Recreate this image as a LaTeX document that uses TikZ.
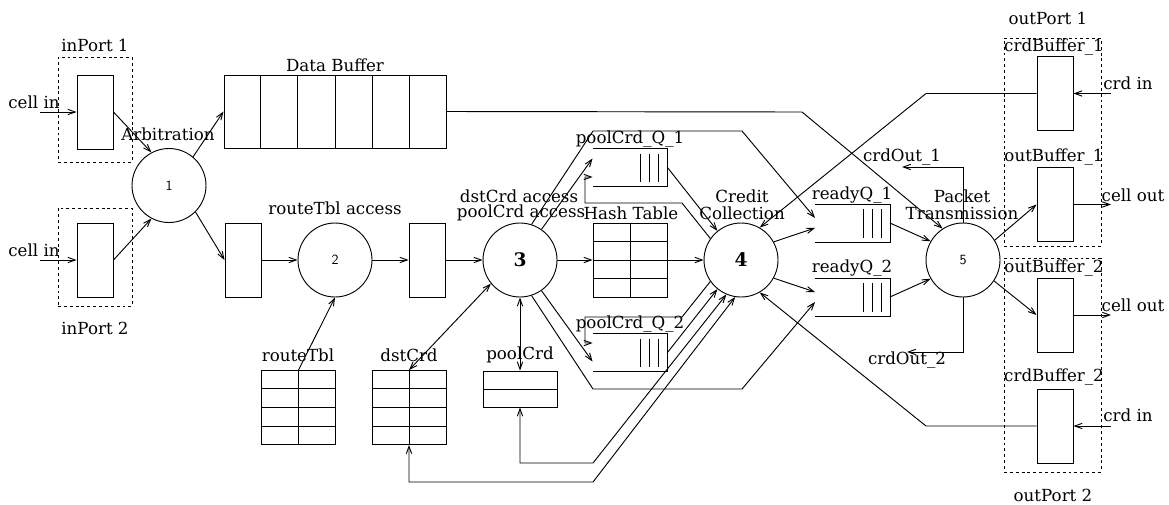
\documentclass[tikz,border=0pt]{standalone}
\usepackage{fontspec}
\setmainfont{DejaVu Serif}
\usetikzlibrary{arrows.meta,calc}

\begin{document}
\begin{tikzpicture}[x=0.75pt, y=-0.75pt, line width=0.7pt,
    lbl/.style={inner sep=0pt, font=\fontsize{12.5pt}{13pt}\selectfont},
    box/.style={draw, minimum width=27pt, minimum height=55.5pt, inner sep=0pt},
    port/.style={draw, dash pattern=on 2.2pt off 2.2pt, inner sep=0pt},
    proc/.style={draw, circle, minimum size=55.5pt, inner sep=0pt},
    num/.style={font=\fontsize{10.5pt}{10.5pt}\sffamily},
    bnum/.style={font=\fontsize{14pt}{14pt}\selectfont\bfseries},
    tbl/.style={draw, minimum width=55.5pt, minimum height=55.5pt, inner sep=0pt},
    qbox/.style={minimum width=55.5pt, minimum height=27.75pt, inner sep=0pt},
    arrow/.style={-{Straight Barb[length=5.5pt,width=4pt]}},
    darrow/.style={{Straight Barb[length=5.5pt,width=4pt]}-{Straight Barb[length=5.5pt,width=4pt]}}]
\useasboundingbox (0,0) rectangle (1169,504);

\node[port, minimum width=55.5pt, minimum height=78.75pt] (inport1) at (95,109.5) {};
\node[port, minimum width=55.5pt, minimum height=73.5pt] (inport2) at (95,257) {};
\node[port, minimum width=72.75pt, minimum height=156pt] (outport1) at (1052.5,142) {};
\node[port, minimum width=72.75pt, minimum height=160.5pt] (outport2) at (1052.5,365) {};

\node[box] (in1) at (95,112) {};
\node[box] (in2) at (95,260) {};
\node[proc] (arb) at (169,185.5) {};
\node[num] (arbnum) at (arb) {1};
\node[draw, minimum width=166.5pt, minimum height=54.75pt, inner sep=0pt] (dbuf) at (335,111.5) {};
\foreach \i in {1,...,5}
  \draw ($(dbuf.north west)!\i/6!(dbuf.north east)$) -- ($(dbuf.south west)!\i/6!(dbuf.south east)$);
\node[box] (rbuf) at (243,260) {};
\node[proc] (route) at (335,260) {};
\node[num] (routenum) at (route) {2};
\node[box] (lkbuf) at (427,260) {};
\node[proc] (lookup) at (520,260) {};
\node[bnum] (lookupnum) at (lookup) {3};
\node[proc] (credit) at (741,260) {};
\node[bnum] (creditnum) at (credit) {4};
\node[proc] (xmit) at (963,260) {};
\node[num] (xmitnum) at (xmit) {5};

\node[tbl] (rtbl) at (298.5,407.5) {};
\node[tbl] (dtbl) at (409,407.5) {};
\node[tbl] (htbl) at (630,260) {};
\foreach \t in {rtbl,dtbl,htbl} {
  \draw (\t.north) -- (\t.south);
  \foreach \f in {0.25,0.5,0.75}
    \draw ($(\t.north west)!\f!(\t.south west)$) -- ($(\t.north east)!\f!(\t.south east)$);
}
\node[draw, minimum width=55.5pt, minimum height=27pt, inner sep=0pt] (ptbl) at (520,389) {};
\draw (ptbl.west) -- (ptbl.east);

\node[qbox] (pq1) at (630,167.5) {};
\node[qbox] (pq2) at (630,352.5) {};
\node[qbox] (rq1) at (852.5,223) {};
\node[qbox] (rq2) at (852.5,297) {};
\foreach \q in {pq1,pq2,rq1,rq2} {
  \draw (\q.north west) -- (\q.north east) -- (\q.south east) -- (\q.south west);
  \foreach \d in {9,18,27}
    \draw ($(\q.north east)+(-\d,5)$) -- ($(\q.south east)+(-\d,-4)$);
}

\node[box] (cb1) at (1055,93.5) {};
\node[box] (ob1) at (1055,204.5) {};
\node[box] (ob2) at (1055,315) {};
\node[box] (cb2) at (1055,426) {};

\node[lbl] (inport1lbl) at (95,45) {inPort 1};
\node[lbl] (inport2lbl) at (95,328) {inPort 2};
\node[lbl] (cellin1lbl) at (34,102) {cell in};
\node[lbl] (cellin2lbl) at (34,250) {cell in};
\node[lbl] (arblbl) at (168,134) {Arbitration};
\node[lbl] (dbuflbl) at (335,65) {Data Buffer};
\node[lbl] (routelbl) at (335,208) {routeTbl access};
\node[lbl] (lookuplbl1) at (519,196) {dstCrd access};
\node[lbl] (lookuplbl2) at (521,213) {poolCrd access};
\node[lbl] (rtbllbl) at (298,355) {routeTbl};
\node[lbl] (dtbllbl) at (409,355) {dstCrd};
\node[lbl] (ptbllbl) at (520,355) {poolCrd};
\node[lbl] (pq1lbl) at (630,139) {poolCrd\_Q\_1};
\node[lbl] (pq2lbl) at (630,324) {poolCrd\_Q\_2};
\node[lbl] (htbllbl) at (631,213) {Hash Table};
\node[lbl] (creditlbl1) at (742,196) {Credit};
\node[lbl] (creditlbl2) at (742,213) {Collection};
\node[lbl] (rq1lbl) at (852,195) {readyQ\_1};
\node[lbl] (rq2lbl) at (852,268) {readyQ\_2};
\node[lbl] (xmitlbl1) at (962,196) {Packet};
\node[lbl] (xmitlbl2) at (962,213) {Transmission};
\node[lbl] (crdout1lbl) at (902,157) {crdOut\_1};
\node[lbl] (crdout2lbl) at (907,360) {crdOut\_2};
\node[lbl] (outport1lbl) at (1048,18) {outPort 1};
\node[lbl] (outport2lbl) at (1053,495) {outPort 2};
\node[lbl] (cb1lbl) at (1054,47) {crdBuffer\_1};
\node[lbl] (ob1lbl) at (1054,157) {outBuffer\_1};
\node[lbl] (ob2lbl) at (1054,268) {outBuffer\_2};
\node[lbl] (cb2lbl) at (1054,377) {crdBuffer\_2};
\node[lbl] (crdin1lbl) at (1128,83) {crd in};
\node[lbl] (crdin2lbl) at (1128,415) {crd in};
\node[lbl] (cellout1lbl) at (1133,195) {cell out};
\node[lbl] (cellout2lbl) at (1133,305) {cell out};

\coordinate (cellin1) at (40,112);
\coordinate (cellin2) at (40,260);
\coordinate (crdin1) at (1111,93.5);
\coordinate (crdin2) at (1111,426);
\coordinate (cellout1) at (1111,204.5);
\coordinate (cellout2) at (1111,315);
\coordinate (crdout1) at (902,167);
\coordinate (crdout2) at (907,352);

\draw[arrow] (cellin1) -- (in1.west);
\draw[arrow] (cellin2) -- (in2.west);
\draw[arrow] (in1.east) -- (arb.118);
\draw[arrow] (in2.east) -- (arb.242);
\draw[arrow] (arb.50) -- (dbuf.west);
\draw[arrow] (arb.315) -- (rbuf.west);
\draw[arrow] (rbuf.east) -- (route.west);
\draw[arrow] (rtbl.north) -- (route.south);
\draw[arrow] (route.east) -- (lkbuf.west);
\draw[arrow] (lkbuf.east) -- (lookup.west);
\draw[darrow] (dtbl.north) -- (lookup.219);
\draw[darrow] (ptbl.north) -- (lookup.south);
\draw[arrow] (lookup.east) -- (htbl.west);
\draw[arrow] (htbl.east) -- (credit.west);
\draw[arrow] (lookup.55) -- ($(pq1.west)+(0,-9)$);
\draw[arrow] (lookup.305) -- ($(pq2.west)+(0,9)$);
\draw[arrow] (lookup.72) -- (593,131) -- (742,131) -- ($(rq1.west)+(0,-5)$);
\draw[arrow] (lookup.288) -- (593,389) -- (742,389) -- ($(rq2.west)+(0,5)$);
\draw[arrow] (credit.145) -- (682,203) -- (585,203) |- ($(pq1.west)+(0,9.5)$);
\draw[arrow] (credit.215) -- (682,317) -- (585,317) |- ($(pq2.west)+(0,-9.5)$);
\draw[arrow] (pq1.east) -- (credit.129);
\draw[arrow] (pq2.east) -- (credit.231);
\draw[darrow] (ptbl.south) |- (593,463) -- (credit.247);
\draw[darrow] (dtbl.south) |- (593,482) -- (credit.261);
\draw[arrow] (credit.29) -- ($(rq1.west)+(0,5)$);
\draw[arrow] (credit.331) -- ($(rq2.west)+(0,-5)$);
\draw[arrow] (rq1.east) -- (xmit.150);
\draw[arrow] (rq2.east) -- (xmit.210);
\draw[arrow] (dbuf.east) -- (802,112) -- (xmit.123);
\draw[arrow] (xmit.north) |- (crdout1);
\draw[arrow] (xmit.south) |- (crdout2);
\draw[arrow] (xmit.32) -- (ob1.west);
\draw[arrow] (xmit.326) -- (ob2.west);
\draw[arrow] (ob1.east) -- (cellout1);
\draw[arrow] (ob2.east) -- (cellout2);
\draw[arrow] (crdin1) -- (cb1.east);
\draw[arrow] (crdin2) -- (cb2.east);
\draw[arrow] (cb1.west) -- (926,93.5) -- (credit.60);
\draw[arrow] (cb2.west) -- (926,426) -- (credit.300);
\end{tikzpicture}
\end{document}
